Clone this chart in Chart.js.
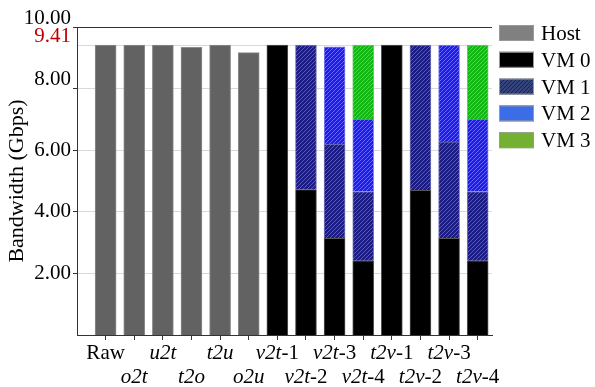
<!DOCTYPE html>
<html>
<head>
<meta charset="utf-8">
<script src="https://cdn.jsdelivr.net/npm/chart.js@4"></script>
<style>
  html, body { margin: 0; padding: 0; background: #fff; }
</style>
</head>
<body>
<canvas id="bwChart" width="595" height="387"></canvas>
<script>
// DATA
const xLabels = ["Raw", "o2t", "u2t", "t2o", "t2u", "o2u",
  "v2t-1", "v2t-2", "v2t-3", "v2t-4", "t2v-1", "t2v-2", "t2v-3", "t2v-4"];
const seriesNames = ["Host", "VM 0", "VM 1", "VM 2", "VM 3"];
const hostBw = [9.41, 9.41, 9.41, 9.34, 9.41, 9.17, null, null, null, null, null, null, null, null];
const vm0Bw = [null, null, null, null, null, null, 9.41, 4.72, 3.14, 2.41, 9.41, 4.70, 3.14, 2.41];
const vm1Bw = [null, null, null, null, null, null, null, 4.69, 3.06, 2.25, null, 4.71, 3.13, 2.25];
const vm2Bw = [null, null, null, null, null, null, null, null, 3.16, 2.35, null, null, 3.14, 2.35];
const vm3Bw = [null, null, null, null, null, null, null, null, null, 2.40, null, null, null, 2.40];
const yTicks = [2, 4, 6, 8, 9.41, 10];
const markedValue = 9.41;

const SERIF = "'Liberation Serif', 'Times New Roman', serif";

// small repeating fills for the hatched bars
function makePattern(base, line, kind) {
  const c = document.createElement("canvas");
  c.width = 4; c.height = 4;
  const g = c.getContext("2d");
  g.fillStyle = base;
  g.fillRect(0, 0, 4, 4);
  g.fillStyle = line;
  if (kind === "diag") {
    for (let i = 0; i < 4; i++) g.fillRect(i, 3 - i, 1, 1);
  } else {
    g.fillRect(0, 0, 1, 1);
    g.fillRect(2, 2, 1, 1);
    g.fillRect(1, 3, 1, 1);
    g.fillRect(3, 1, 1, 1);
  }
  return g.createPattern(c, "repeat");
}

const barFills = [
  "#626262",
  "#000000",
  makePattern("#1c1c86", "#5858c4", "diag"),
  makePattern("#1e1ee6", "#6a6aff", "check"),
  makePattern("#14b814", "#44dd44", "diag")
];
const barBorders = ["#8c8c8c", "#555555", "#7777bb", "#8888ee", "#66cc66"];
const legendFills = [
  "#808080",
  "#000000",
  makePattern("#34447a", "#1b2448", "diag"),
  "#3b6ee6",
  "#74b032"
];

const toPoints = (arr) => arr.map((v, i) => ({ x: i, y: v })).filter(p => p.y !== null);

const allSeries = [hostBw, vm0Bw, vm1Bw, vm2Bw, vm3Bw];
const datasets = allSeries.map((arr, k) => ({
  label: seriesNames[k],
  data: toPoints(arr),
  backgroundColor: barFills[k],
  borderColor: barBorders[k],
  borderWidth: 1,
  barThickness: 21
}));

// x labels: two staggered rows, italic name with upright suffix
const xLabelPlugin = {
  id: "xLabels",
  afterDraw(chart) {
    const ctx = chart.ctx;
    const xs = chart.scales.x;
    const bottom = chart.chartArea.bottom;
    ctx.save();
    ctx.fillStyle = "#000";
    ctx.textBaseline = "alphabetic";
    xLabels.forEach((lab, i) => {
      const px = xs.getPixelForValue(i);
      const py = bottom + (i % 2 === 0 ? 24 : 48);
      let parts;
      if (lab === "Raw") parts = [[lab, false]];
      else {
        const cut = lab.indexOf("-");
        parts = cut < 0 ? [[lab, true]] : [[lab.slice(0, cut), true], [lab.slice(cut), false]];
      }
      let total = 0;
      parts.forEach(p => {
        ctx.font = (p[1] ? "italic " : "") + "21px " + SERIF;
        p.push(ctx.measureText(p[0]).width);
        total += p[2];
      });
      let cx = px - total / 2;
      ctx.textAlign = "left";
      parts.forEach(p => {
        ctx.font = (p[1] ? "italic " : "") + "21px " + SERIF;
        ctx.fillText(p[0], cx, py);
        cx += p[2];
      });
    });
    ctx.restore();
  }
};

// legend on the right
const legendPlugin = {
  id: "sideLegend",
  afterDraw(chart) {
    const ctx = chart.ctx;
    const left = chart.chartArea.right + 7;
    ctx.save();
    ctx.font = "21px " + SERIF;
    ctx.textBaseline = "alphabetic";
    ctx.textAlign = "left";
    seriesNames.forEach((name, k) => {
      const top = 25 + k * 26.8;
      ctx.fillStyle = legendFills[k];
      ctx.fillRect(left, top, 35, 16);
      ctx.strokeStyle = "#999";
      ctx.lineWidth = 1;
      ctx.strokeRect(left + 0.5, top + 0.5, 34, 15);
      ctx.fillStyle = "#000";
      ctx.fillText(name, left + 42, top + 15);
    });
    ctx.restore();
  }
};

new Chart(document.getElementById("bwChart"), {
  type: "bar",
  data: { datasets: datasets },
  options: {
    responsive: false,
    animation: false,
    devicePixelRatio: 1,
    layout: { padding: { top: 27, right: 103, bottom: 47, left: 0 } },
    plugins: {
      legend: { display: false },
      tooltip: { enabled: false }
    },
    scales: {
      x: {
        type: "linear",
        min: -1,
        max: 13.5,
        offset: false,
        stacked: true,
        afterBuildTicks: (s) => { s.ticks = xLabels.map((_, i) => ({ value: i })); },
        ticks: { display: false },
        grid: { offset: false, drawOnChartArea: false, drawTicks: true, tickLength: 5, color: "#333" },
        border: { color: "#333" }
      },
      y: {
        min: 0,
        max: 10,
        stacked: true,
        afterBuildTicks: (s) => { s.ticks = yTicks.map(v => ({ value: v })); },
        afterFit: (s) => { s.width = 77; },
        ticks: {
          padding: 2,
          font: { family: SERIF, size: 21, lineHeight: 0.85 },
          color: (c) => c.tick.value === markedValue ? "#c00000" : "#000",
          // the top labels sit a bit above their lines
          callback: (v) => v >= 8 ? [v.toFixed(2), ""] : v.toFixed(2)
        },
        grid: {
          color: (c) => c.tick.value === 10 ? "#333" : "#d9d9d9",
          tickColor: (c) => c.tick.value === markedValue ? "rgba(0,0,0,0)" : "#333",
          tickLength: 4
        },
        border: { color: "#333" },
        title: {
          display: true,
          text: "Bandwidth (Gbps)",
          color: "#000",
          font: { family: SERIF, size: 22 },
          padding: { top: 4, bottom: 0 }
        }
      }
    }
  },
  plugins: [xLabelPlugin, legendPlugin]
});
</script>
</body>
</html>
